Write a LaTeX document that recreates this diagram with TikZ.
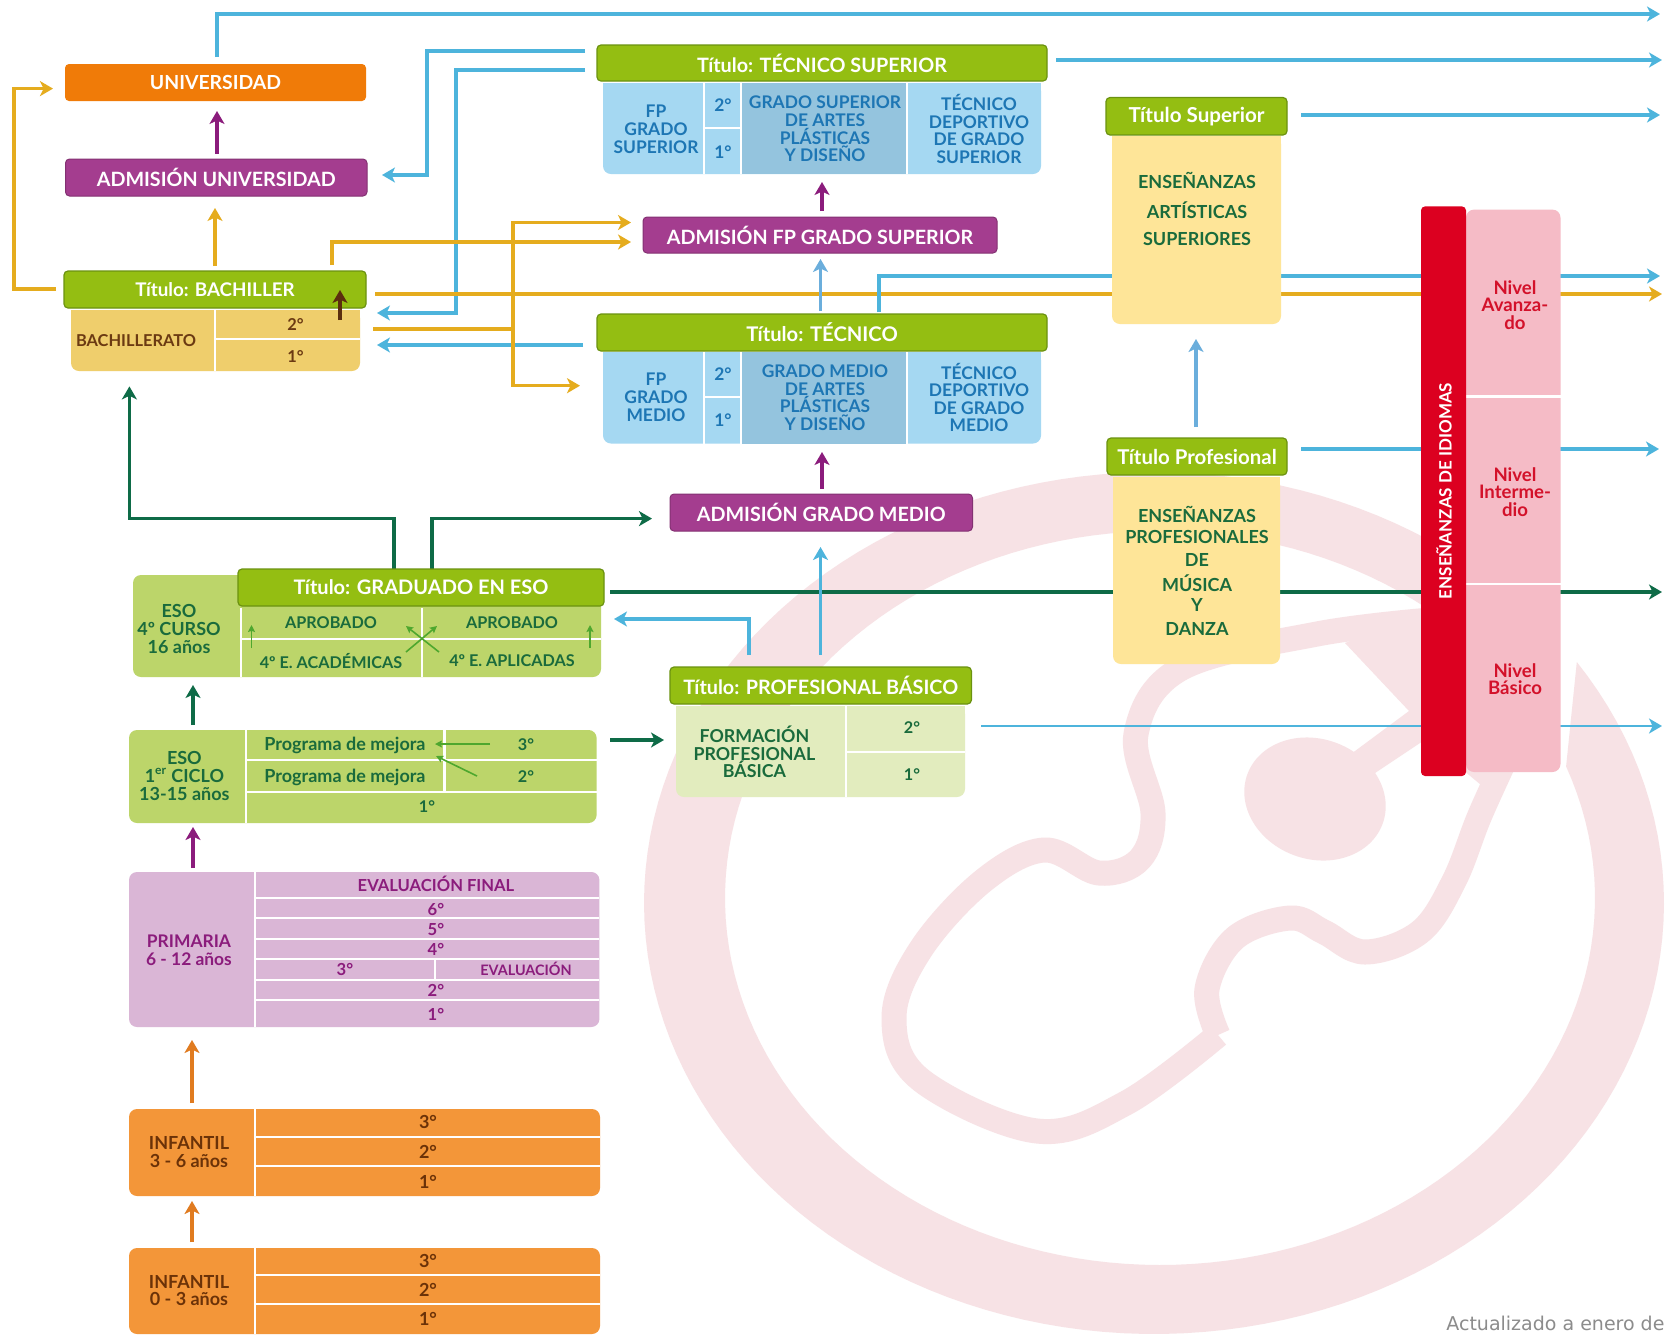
\documentclass[tikz,border=0pt]{standalone}
\usepackage{fontspec}
\setmainfont{Lato}
\newfontfamily\grayfont{DejaVu Sans}
\usetikzlibrary{arrows.meta}
\definecolor{wm}{HTML}{F7E2E5}
\definecolor{cyanl}{HTML}{4DB4DC}
\definecolor{lblue}{HTML}{6BAEDC}
\definecolor{amber}{HTML}{E5AC1E}
\definecolor{dkgreen}{HTML}{0E6B47}
\definecolor{purp}{HTML}{8B1C7C}
\definecolor{brownl}{HTML}{5B2E0E}
\definecolor{tgreen}{HTML}{94BE12}
\definecolor{tgreend}{HTML}{6B9210}
\definecolor{unior}{HTML}{F07B08}
\definecolor{adm}{HTML}{A43D8F}
\definecolor{bblue}{HTML}{A5D8F2}
\definecolor{bbluedk}{HTML}{94C4DE}
\definecolor{tblue}{HTML}{1D76B4}
\definecolor{bachy}{HTML}{EFCE6C}
\definecolor{tbrown}{HTML}{6B3A12}
\definecolor{yell}{HTML}{FEE598}
\definecolor{tdgreen}{HTML}{1A6B3C}
\definecolor{esog}{HTML}{BCD56A}
\definecolor{fpb}{HTML}{E2ECBE}
\definecolor{prim}{HTML}{DAB6D6}
\definecolor{orang}{HTML}{F39639}
\definecolor{torang}{HTML}{6B3208}
\definecolor{pinkb}{HTML}{F5BBC6}
\definecolor{redb}{HTML}{DC0020}
\definecolor{tred}{HTML}{D3112A}
\definecolor{midg}{HTML}{4EA72E}
\definecolor{oarrow}{HTML}{E07B20}
\newcommand{\mybox}[7]{%
  \pgfmathsetmacro\myw{(#4-#2)*0.5}\pgfmathsetmacro\myh{(#5-#3)*0.5}%
  \node[#6,minimum width=\myw pt,minimum height=\myh pt] (#1) at ({(#2+#4)/2},{(#3+#5)/2}) {#7};}
\newcommand{\mybody}[6]{%
  \fill[#6] (#2,#3) rectangle (#4,{(#3+#5)/2});%
  \mybox{#1}{#2}{#3}{#4}{#5}{basebox,fill=#6,rounded corners=4pt}{}}
\newcommand{\mylab}[5]{\node[#4] (#1) at (#2,#3) {#5};}
\newcommand{\hdv}[3]{\draw[dvd] (#2,#1) -- (#3,#1);}
\newcommand{\vdv}[3]{\draw[dvd] (#1,#2) -- (#1,#3);}
\newcommand{\tfs}[1]{\fontsize{#1}{11}\selectfont\bfseries}
\tikzset{
 basebox/.style={inner sep=0pt,outer sep=0pt,rectangle},
 titlebox/.style={basebox,fill=tgreen,draw=tgreend,line width=0.6pt,rounded corners=2pt,text=white,font=\tfs{9.9}},
 admbox/.style={basebox,fill=adm,draw=adm!80!black,line width=0.5pt,rounded corners=2pt,text=white,font=\fontsize{9.85}{11}\selectfont\bfseries},
 dvd/.style={white,line width=1.1pt},
 bluet/.style={text=tblue,align=center,font=\fontsize{8.7}{8.8}\selectfont\bfseries,inner sep=0pt},
 browt/.style={text=tbrown,align=center,font=\fontsize{8.2}{9}\selectfont\bfseries,inner sep=0pt},
 greent/.style={text=tdgreen,align=center,font=\fontsize{8.1}{8.8}\selectfont\bfseries,inner sep=0pt},
 greenb/.style={text=tdgreen,align=center,font=\fontsize{9}{8.8}\selectfont\bfseries,inner sep=0pt},
 purpt/.style={text=purp,align=center,font=\fontsize{8.3}{9}\selectfont\bfseries,inner sep=0pt},
 orat/.style={text=torang,align=center,font=\fontsize{9}{8.8}\selectfont\bfseries,inner sep=0pt},
 redt/.style={text=tred,align=center,font=\fontsize{9.3}{8.7}\selectfont\bfseries,inner sep=0pt},
 bigt/.style={text=tdgreen,align=center,font=\fontsize{9}{9}\selectfont\bfseries,inner sep=0pt},
 conn/.style={line width=1.6pt,-{Stealth[length=6.5pt,width=7.5pt,inset=1.8pt]}},
 plainl/.style={line width=1.6pt},
 smallarr/.style={line width=0.8pt,midg,-{Stealth[length=3.5pt,width=3.5pt,inset=0.6pt]}},
}
\begin{document}
\begin{tikzpicture}[x=0.5pt,y=-0.5pt]
\useasboundingbox (0,0) rectangle (1671,1340);
\clip (0,0) rectangle (1671,1340);
\fill[white] (0,0) rectangle (1671,1340);
% watermark
\fill[wm] plot[domain=-34:305,samples=150] ({1154+510*cos(\x)},{903+431*sin(\x)}) -- plot[domain=310:-21,samples=150] ({1160+435*cos(\x)},{898+367*sin(\x)}) -- cycle;
\draw[wm,line width=12.5pt,line join=round] plot[smooth,tension=0.6] coordinates {(1430,620) (1317,634) (1181,668.5) (1136,734) (1153,813) (1140,859) (1099,873) (1044,850) (983,881) (921,949) (894,1017.5) (921,1080) (1037,1131) (1126,1103) (1218,1035)};
\draw[wm,line width=12.5pt,line join=round] plot[smooth,tension=0.6] coordinates {(1218,1035) (1207,989) (1235,938) (1290,918) (1324,932) (1365,952) (1420,932) (1454,881) (1480,815) (1512,745)};
\fill[wm] (1345,643) -- (1409,711) -- (1351,754) -- (1375,773) -- (1426,739) -- (1481,785) -- (1500,760) -- (1556,620) -- (1430,609) -- cycle;
\fill[wm,rotate around={-20:(1315,799)}] (1315,799) ellipse [x radius=72,y radius=60];
% end points
\coordinate (a1) at (217,57); \coordinate (a1e) at (1660,14);
\coordinate (a2) at (1056,60); \coordinate (a2e) at (1662,60);
\coordinate (a3) at (1301,115); \coordinate (a3e) at (1660,115);
\coordinate (a4) at (879,312); \coordinate (a4e) at (1660,276);
\coordinate (a5) at (375,294); \coordinate (a5e) at (1662,294);
\coordinate (a6) at (1301,449); \coordinate (a6e) at (1659,449);
\coordinate (a7) at (610,592); \coordinate (a7e) at (1662,592);
\coordinate (a8) at (981,726); \coordinate (a8e) at (1662,726);
\coordinate (b1) at (585,51); \coordinate (b1c) at (427,175); \coordinate (b1e) at (382,175);
\coordinate (b2) at (585,70); \coordinate (b2c) at (456,313); \coordinate (b2e) at (377,313);
\coordinate (b3) at (583,345); \coordinate (b3e) at (377,345);
\coordinate (c1) at (56,289); \coordinate (c1c) at (14,88.6); \coordinate (c1e) at (53,88.6);
\coordinate (c2) at (215,266); \coordinate (c2e) at (215,208);
\coordinate (c3) at (332,265); \coordinate (c3e) at (631,242);
\coordinate (c4) at (373,329); \coordinate (c4m) at (513,329);
\coordinate (c4a) at (631,222.5); \coordinate (c4b) at (580,385.7);
\coordinate (d1) at (394,569); \coordinate (d1c) at (129.4,518.6); \coordinate (d1e) at (129.4,386.4);
\coordinate (d2) at (432,569); \coordinate (d2e) at (652,518.6);
\coordinate (e1) at (749,655); \coordinate (e1e) at (614,619);
% long lines, behind the boxes
\draw[conn,cyanl] (a2) -- (a2e);
\draw[conn,cyanl] (a3) -- (a3e);
\draw[conn,cyanl] (b2) -| (b2c) -- (b2e);
\draw[conn,amber] (a5) -- (a5e);
\draw[conn,cyanl] (a1) |- (a1e);
\draw[conn,cyanl] (a4) |- (a4e);
\draw[conn,cyanl] (a6) -- (a6e);
\draw[conn,dkgreen] (a7) -- (a7e);
\draw[conn,cyanl,line width=1.2pt] (a8) -- (a8e);
\draw[conn,cyanl] (b1) -| (b1c) -- (b1e);
\draw[conn,cyanl] (b3) -- (b3e);
\draw[conn,amber] (c1) -| (c1c) -- (c1e);
\draw[conn,amber] (c2) -- (c2e);
\draw[conn,amber] (c3) |- (c3e);
\draw[plainl,amber] (c4) -- (c4m);
\draw[conn,amber] (c4m) |- (c4a);
\draw[conn,amber] (c4m) |- (c4b);
\draw[conn,dkgreen] (d1) |- (d1c) -- (d1e);
\draw[conn,dkgreen] (d2) |- (d2e);
\draw[conn,cyanl] (e1) |- (e1e);
% universidad column
\mybox{uni}{65}{64}{366}{101}{basebox,fill=unior,rounded corners=2pt,text=white,font=\fontsize{9.7}{11}\selectfont\bfseries}{UNIVERSIDAD}
\mybox{admu}{65.5}{159}{367}{196}{admbox}{ADMISIÓN UNIVERSIDAD}
% bachillerato
\mybody{bach}{71}{310}{360}{371}{bachy}
\vdv{215}{310}{371}\hdv{339}{215}{360}
\mylab{tbach}{136}{340.5}{browt}{BACHILLERATO}
\mylab{b2t}{295.5}{324}{browt}{2°}
\mylab{b1t}{295.5}{356}{browt}{1°}
\mybox{tb}{64}{271}{366}{308}{titlebox,font=\tfs{9.4}}{Título: BACHILLER}
% tecnico superior
\mybody{tsb}{603}{83}{1041}{174}{bblue}
\fill[bbluedk] (741,83) rectangle (907,174);
\vdv{704}{83}{174}\vdv{741}{83}{174}\vdv{907}{83}{174}\hdv{128}{704}{741}
\mylab{ts1}{656}{129}{bluet}{FP\\[0.2pt]GRADO\\[0.2pt]SUPERIOR}
\mylab{ts2}{723}{105}{bluet}{2°}
\mylab{ts3}{723}{152}{bluet}{1°}
\mylab{ts4}{825}{129}{bluet}{GRADO SUPERIOR\\DE ARTES\\PLÁSTICAS\\Y DISEÑO}
\mylab{ts5}{979}{129}{bluet}{TÉCNICO\\DEPORTIVO\\DE GRADO\\SUPERIOR}
\mybox{tts}{597}{45}{1047}{81}{titlebox}{Título: TÉCNICO SUPERIOR}
\mybox{admfp}{643}{217}{997}{253}{admbox}{ADMISIÓN FP GRADO SUPERIOR}
% tecnico
\mybody{tmb}{603}{352}{1041}{443.5}{bblue}
\fill[bbluedk] (741,352) rectangle (907,443.5);
\vdv{704}{352}{443.5}\vdv{741}{352}{443.5}\vdv{907}{352}{443.5}\hdv{397}{704}{741}
\mylab{tm1}{656}{397.5}{bluet}{FP\\[0.2pt]GRADO\\[0.2pt]MEDIO}
\mylab{tm2}{723}{374}{bluet}{2°}
\mylab{tm3}{723}{420}{bluet}{1°}
\mylab{tm4}{825}{397.5}{bluet}{GRADO MEDIO\\DE ARTES\\PLÁSTICAS\\Y DISEÑO}
\mylab{tm5}{979}{397.5}{bluet}{TÉCNICO\\DEPORTIVO\\DE GRADO\\MEDIO}
\mybox{ttm}{597}{314}{1047}{351}{titlebox,font=\tfs{10.1}}{Título: TÉCNICO}
\mybox{admgm}{670}{494}{972.5}{531}{admbox}{ADMISIÓN GRADO MEDIO}
% artisticas superiores
\mybody{ysup}{1112}{136}{1281}{324}{yell}
\mylab{ys1}{1197}{180}{bigt}{ENSEÑANZAS}
\mylab{ys2}{1197}{210}{bigt}{ARTÍSTICAS}
\mylab{ys3}{1197}{239}{bigt}{SUPERIORES}
\mybox{tsup}{1106}{97.5}{1287}{135}{titlebox,font=\tfs{10.3}}{Título Superior}
% profesionales
\mybody{yprof}{1113}{477}{1280}{664}{yell}
\mylab{yp1}{1197}{514}{bigt}{ENSEÑANZAS}
\mylab{yp2}{1197}{537}{bigt}{PROFESIONALES}
\mylab{yp3}{1197}{560}{bigt}{DE}
\mylab{yp4}{1197}{583}{bigt}{MÚSICA}
\mylab{yp5}{1197}{605}{bigt}{Y}
\mylab{yp6}{1197}{629}{bigt}{DANZA}
\mybox{tprof}{1107}{438}{1287}{475}{titlebox,font=\tfs{10.2}}{Título Profesional}
% idiomas
\mybox{pinkbox}{1466}{209.6}{1560.5}{772}{basebox,fill=pinkb,rounded corners=4pt}{}
\hdv{396.4}{1466}{1560.5}\hdv{584}{1466}{1560.5}
\mybox{redbar}{1421}{206.4}{1466}{776}{basebox,fill=redb,rounded corners=2pt}{}
\node[rotate=90,text=white,inner sep=0pt,font=\fontsize{8.5}{10}\selectfont\bfseries] (idi) at (1444,491) {ENSEÑANZAS DE IDIOMAS};
\mylab{n1}{1515}{305}{redt}{Nivel\\Avanza-\\do}
\mylab{n2}{1515}{492}{redt}{Nivel\\Interme-\\dio}
\mylab{n3}{1515}{679}{redt}{Nivel\\Básico}
% ESO 4
\mybox{eso4}{133}{575}{601}{677}{basebox,fill=esog,rounded corners=4pt}{}
\vdv{240.6}{608}{677}\vdv{422}{608}{677}\hdv{639}{240.6}{601}
\mylab{e4t}{179}{629}{greenb}{ESO\\4º CURSO\\16 años}
\mylab{ap1}{331}{623}{greent}{APROBADO}
\mylab{ap2}{512}{623}{greent}{APROBADO}
\mylab{ea}{331}{661}{greent}{4º E. ACADÉMICAS}
\mylab{eb}{512}{661}{greent}{4º E. APLICADAS}
\mybox{tgr}{238}{569}{604}{606}{titlebox,font=\tfs{10}}{Título: GRADUADO EN ESO}
\coordinate (s1) at (251.5,648); \coordinate (s1e) at (251.5,625);
\coordinate (s2) at (590,648); \coordinate (s2e) at (590,625);
\coordinate (s3) at (406,652); \coordinate (s3e) at (437,626);
\coordinate (s4) at (439,652); \coordinate (s4e) at (406,626);
\draw[smallarr] (s1) -- (s1e); \draw[smallarr] (s2) -- (s2e);
\draw[smallarr] (s3) -- (s3e); \draw[smallarr] (s4) -- (s4e);
% ESO 1
\mybox{eso1}{129}{730}{596.6}{823}{basebox,fill=esog,rounded corners=4pt}{}
\vdv{246}{730}{823}\vdv{444.5}{730}{792}\hdv{760}{246}{596.6}\hdv{792}{246}{596.6}
\mylab{e1t}{184.4}{776}{greenb}{ESO\\1\textsuperscript{er} CICLO\\13-15 años}
\mylab{pm1}{345}{745}{greenb}{Programa de mejora}
\mylab{pm2}{345}{777}{greenb}{Programa de mejora}
\mylab{e13}{526}{745}{greent}{3°}
\mylab{e12}{526}{777}{greent}{2°}
\mylab{e11}{427}{807}{greent}{1°}
\coordinate (s5) at (490,744); \coordinate (s5e) at (435,744);
\coordinate (s6) at (477,776); \coordinate (s6e) at (436,756);
\draw[smallarr] (s5) -- (s5e); \draw[smallarr] (s6) -- (s6e);
% primaria
\mybox{prm}{129}{872}{599.4}{1027}{basebox,fill=prim,rounded corners=4pt}{}
\vdv{255}{872}{1027}\vdv{435}{959}{980}
\hdv{898}{255}{599.4}\hdv{918}{255}{599.4}\hdv{939}{255}{599.4}\hdv{959}{255}{599.4}\hdv{980}{255}{599.4}\hdv{1000}{255}{599.4}
\mylab{prt}{189}{950}{purpt,font=\fontsize{8.7}{9}\selectfont\bfseries}{PRIMARIA\\6 - 12 años}
\mylab{evf}{436}{884}{purpt}{EVALUACIÓN FINAL}
\mylab{p6}{436}{909}{purpt}{6°}
\mylab{p5}{436}{929}{purpt}{5°}
\mylab{p4}{436}{949}{purpt}{4°}
\mylab{p3}{345}{969}{purpt}{3°}
\mylab{pev}{526}{969}{purpt,font=\fontsize{7.2}{8}\selectfont\bfseries}{EVALUACIÓN}
\mylab{p2}{436}{990}{purpt}{2°}
\mylab{p1}{436}{1014}{purpt}{1°}
% infantil
\mybox{inf3}{129}{1109}{600}{1196}{basebox,fill=orang,rounded corners=4pt}{}
\vdv{255}{1109}{1196}\hdv{1137}{255}{600}\hdv{1166}{255}{600}
\mylab{i3t}{189}{1152}{orat}{INFANTIL\\3 - 6 años}
\mylab{i33}{428}{1122}{orat}{3°}
\mylab{i32}{428}{1152}{orat}{2°}
\mylab{i31}{428}{1182}{orat}{1°}
\mybox{inf0}{129}{1248}{600}{1334}{basebox,fill=orang,rounded corners=4pt}{}
\vdv{255}{1248}{1334}\hdv{1275}{255}{600}\hdv{1304}{255}{600}
\mylab{i0t}{189}{1290.5}{orat}{INFANTIL\\0 - 3 años}
\mylab{i03}{428}{1261}{orat}{3°}
\mylab{i02}{428}{1290}{orat}{2°}
\mylab{i01}{428}{1319}{orat}{1°}
% FP basica
\mybody{fpbb}{676}{706}{965}{797}{fpb}
\vdv{846}{706}{797}\hdv{752}{846}{965}
\mylab{fp1}{754.4}{752}{bigt,font=\fontsize{8.9}{8.8}\selectfont\bfseries}{FORMACIÓN\\PROFESIONAL\\BÁSICA}
\mylab{fp2}{912}{728}{greent}{2°}
\mylab{fp3}{912}{775}{greent}{1°}
\mybox{tpb}{670}{667}{971.4}{704}{titlebox}{Título: PROFESIONAL BÁSICO}
% short arrows on top
\coordinate (u1) at (217,153.5); \coordinate (u1e) at (217,111);
\coordinate (u2) at (340,320); \coordinate (u2e) at (340,290);
\coordinate (u3) at (822,211); \coordinate (u3e) at (822,182);
\coordinate (u4) at (820.5,311); \coordinate (u4e) at (820.5,259);
\coordinate (u5) at (822,488.6); \coordinate (u5e) at (822,452);
\coordinate (u6) at (820.5,655); \coordinate (u6e) at (820.5,547);
\coordinate (u7) at (193,725); \coordinate (u7e) at (193,685);
\coordinate (u8) at (193,868); \coordinate (u8e) at (193,827);
\coordinate (u9) at (192,1103); \coordinate (u9e) at (192,1040);
\coordinate (u10) at (192,1242); \coordinate (u10e) at (192,1201);
\coordinate (u11) at (610,740); \coordinate (u11e) at (664,740);
\coordinate (u12) at (1196,427); \coordinate (u12e) at (1196,339);
\draw[conn,purp] (u1) -- (u1e);
\draw[conn,brownl] (u2) -- (u2e);
\draw[conn,purp] (u3) -- (u3e);
\draw[conn,lblue] (u4) -- (u4e);
\draw[conn,purp] (u5) -- (u5e);
\draw[conn,cyanl] (u6) -- (u6e);
\draw[conn,dkgreen] (u7) -- (u7e);
\draw[conn,purp] (u8) -- (u8e);
\draw[conn,oarrow] (u9) -- (u9e);
\draw[conn,oarrow] (u10) -- (u10e);
\draw[conn,dkgreen] (u11) -- (u11e);
\draw[conn,lblue] (u12) -- (u12e);
\node[anchor=base west,inner sep=0pt,text=black!45,font=\grayfont\fontsize{9.5}{11}\selectfont] (upd) at (1446,1330) {Actualizado a enero de};
\end{tikzpicture}
\end{document}
